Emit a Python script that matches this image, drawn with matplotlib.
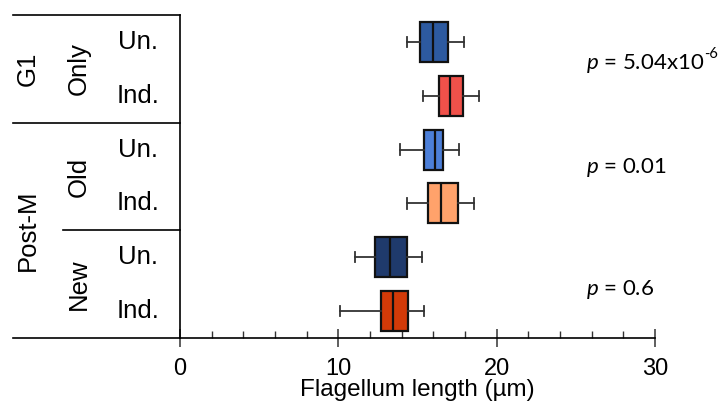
import matplotlib
matplotlib.use("Agg")
import matplotlib.pyplot as plt
import matplotlib.transforms as mtransforms

# Data
rows = ["Un.", "Ind.", "Un.", "Ind.", "Un.", "Ind."]
whislo = [14.32, 15.33, 13.88, 14.36, 11.03, 10.11]
q1 = [15.16, 16.36, 15.41, 15.69, 12.34, 12.68]
med = [15.96, 17.08, 16.13, 16.47, 13.29, 13.43]
q3 = [16.95, 17.90, 16.64, 17.54, 14.32, 14.40]
whishi = [17.94, 18.91, 17.62, 18.55, 15.31, 15.41]
colors = ["#2D5AA0", "#F0514A", "#4C7FD8", "#FFA26B", "#1F3A6C", "#D33A08"]
pvals = ["$\\it{p}$ = 5.04x10", "$\\it{p}$ = 0.01", "$\\it{p}$ = 0.6"]
pexp = ["-6", "", ""]
groups_mid = ["Only", "Old", "New"]
groups_outer = ["G1", "Post-M"]

plt.rcParams['font.family'] = ['Liberation Sans', 'DejaVu Sans']
plt.rcParams['mathtext.fontset'] = 'custom'
plt.rcParams['mathtext.rm'] = 'Lato'
plt.rcParams['mathtext.it'] = 'Lato:italic'

fig = plt.figure(figsize=(7.2, 4.05), dpi=100)
ax = fig.add_axes([180/720, (405-338)/405, (655-180)/720, (338-15)/405])

positions = list(range(len(rows)))
stats = []
for i in range(len(rows)):
    stats.append(dict(whislo=whislo[i], q1=q1[i], med=med[i], q3=q3[i],
                      whishi=whishi[i], fliers=[]))
bp = ax.bxp(stats, positions=positions, orientation='horizontal', widths=0.74,
            patch_artist=True, showfliers=False,
            boxprops=dict(linewidth=1.6, edgecolor='#111111'),
            medianprops=dict(color='#111111', linewidth=1.6),
            whiskerprops=dict(color='#333333', linewidth=1.3),
            capprops=dict(color='#333333', linewidth=1.3),
            capwidths=0.19)
for patch, c in zip(bp['boxes'], colors):
    patch.set_facecolor(c)

ax.set_xlim(0, 30)
ax.set_ylim(5.5, -0.5)
ax.set_yticks([])
for s in ['top', 'right']:
    ax.spines[s].set_visible(False)
ax.spines['left'].set_linewidth(1.2)
ax.spines['bottom'].set_linewidth(1.2)
ax.set_xticks([0, 10, 20, 30])
ax.set_xticks([2, 4, 6, 8, 12, 14, 16, 18, 22, 24, 26, 28], minor=True)
ax.tick_params(axis='x', which='major', direction='inout', length=13, width=1.1,
               labelsize=17, pad=8, color='#333333')
ax.tick_params(axis='x', which='minor', direction='in', length=5, width=1.0,
               color='#333333')
ax.set_xlabel("Flagellum length (µm)", fontsize=17.5, labelpad=-1)

# left structure
tr = mtransforms.blended_transform_factory(ax.transAxes, ax.transData)
def px(x):
    return (x - 180) / 475

lw = 1.2
ax.plot([px(13), 0], [-0.5, -0.5], transform=tr, color='black', lw=lw, clip_on=False)
ax.plot([px(13), 0], [1.5, 1.5], transform=tr, color='black', lw=lw, clip_on=False)
ax.plot([px(63), 0], [3.5, 3.5], transform=tr, color='black', lw=lw, clip_on=False)
ax.plot([px(13), 0], [5.5, 5.5], transform=tr, color='black', lw=lw, clip_on=False)

for i, lab in enumerate(rows):
    ax.text(px(138), i, lab, transform=tr, ha='center', va='center', fontsize=18.5)

mid_pos = [0.5, 2.5, 4.5]
for lab, y in zip(groups_mid, mid_pos):
    ax.text(px(79), y, lab, transform=tr, ha='center', va='center', rotation=90, fontsize=18.5)
outer_pos = [0.5, 3.5]
for lab, y in zip(groups_outer, outer_pos):
    ax.text(px(28), y, lab, transform=tr, ha='center', va='center', rotation=90, fontsize=18.5)

# p-values
pv_pos = [0.4, 2.33, 4.6]
for lab, ex, y in zip(pvals, pexp, pv_pos):
    t = ax.text(px(586), y, lab, transform=tr, ha='left', va='center', fontsize=16,
                family='Lato')
    if ex:
        ax.annotate(ex, xy=(1.0, 0.93), xycoords=t, ha='left', va='center',
                    fontsize=10.5, family='Lato')

fig.savefig("out.png", dpi=100)
